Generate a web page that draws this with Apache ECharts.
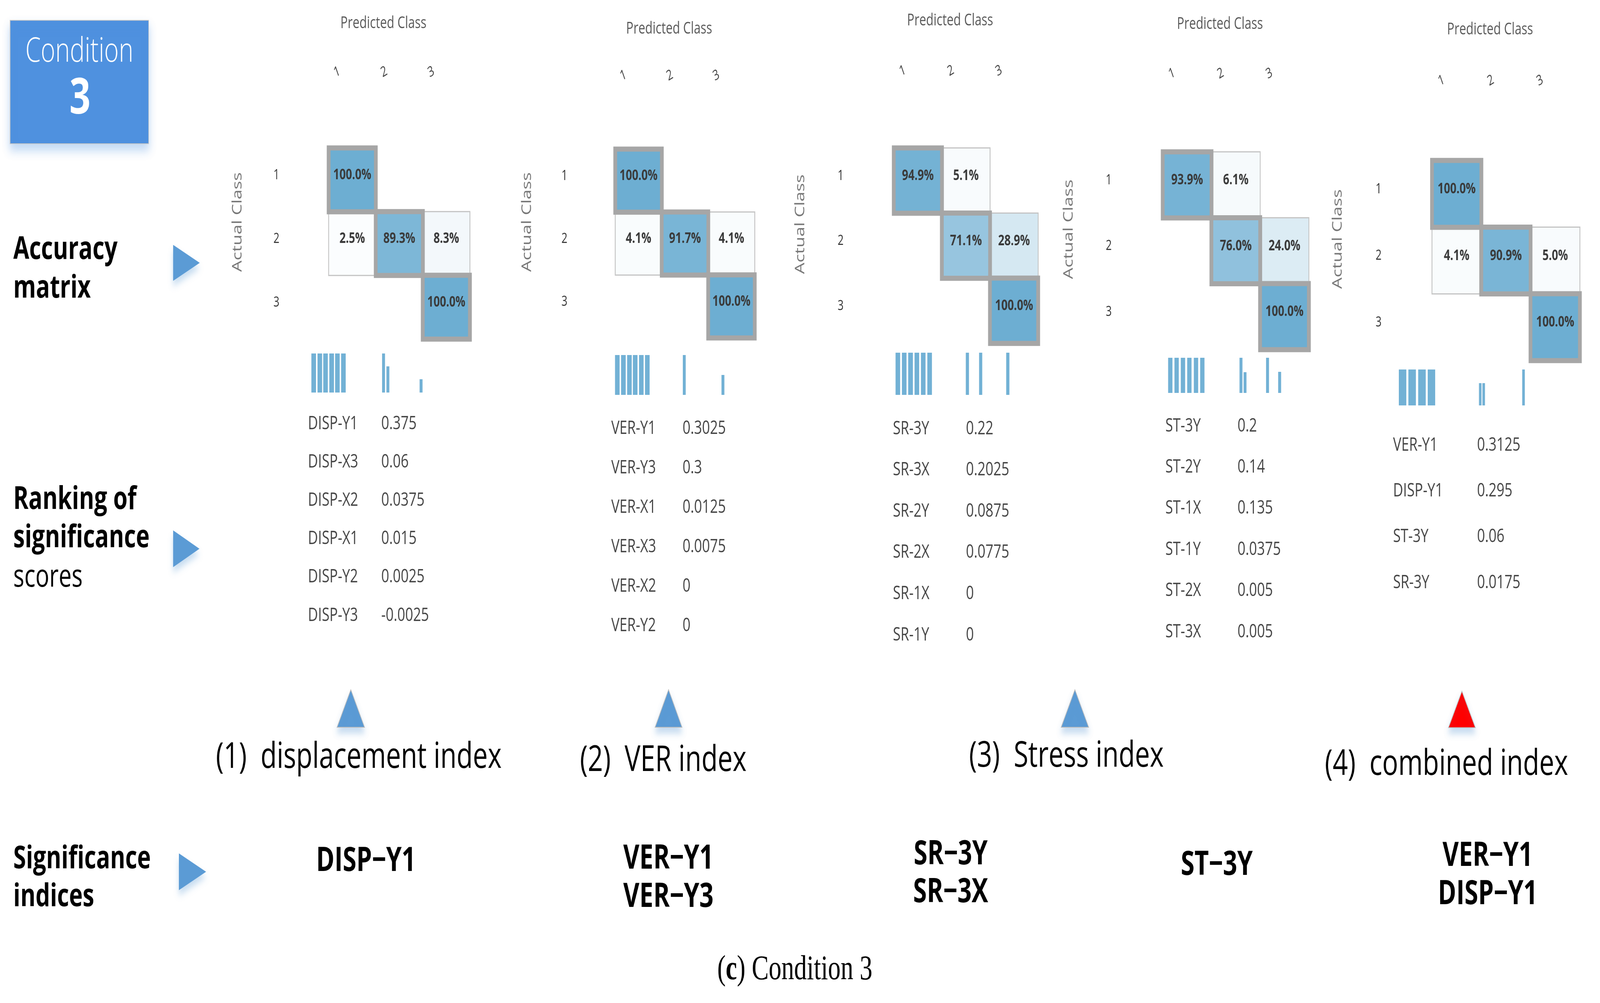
<!DOCTYPE html>
<html><head><meta charset="utf-8">
<script src="https://cdn.jsdelivr.net/npm/echarts@6/dist/echarts.min.js"></script>
<style>html,body{margin:0;padding:0;background:#fff;overflow:hidden}
#wrap{position:fixed;left:0;top:0;width:100vw;height:100vh;overflow:hidden;background:#fff}
#c{width:5544px;height:2568px;transform-origin:0 0}</style>
</head><body><div id="wrap"><div id="c"></div></div>
<script>
// ---------------- DATA ----------------
const classLabels = ['1', '2', '3'];

// accuracy matrices (rows = actual class, cols = predicted class, %)
const matDisp   = [[100, 0, 0], [2.5, 89.3, 8.3], [0, 0, 100]];
const matVer    = [[100, 0, 0], [4.1, 91.7, 4.1], [0, 0, 100]];
const matSR     = [[94.9, 5.1, 0], [0, 71.1, 28.9], [0, 0, 100]];
const matST     = [[93.9, 6.1, 0], [0, 76.0, 24.0], [0, 0, 100]];
const matComb   = [[100, 0, 0], [4.1, 90.9, 5.0], [0, 0, 100]];

// ranking of significance scores
const rankNamesDisp  = ['DISP-Y1', 'DISP-X3', 'DISP-X2', 'DISP-X1', 'DISP-Y2', 'DISP-Y3'];
const rankScoresDisp = ['0.375', '0.06', '0.0375', '0.015', '0.0025', '-0.0025'];
const rankNamesVer   = ['VER-Y1', 'VER-Y3', 'VER-X1', 'VER-X3', 'VER-X2', 'VER-Y2'];
const rankScoresVer  = ['0.3025', '0.3', '0.0125', '0.0075', '0', '0'];
const rankNamesSR    = ['SR-3Y', 'SR-3X', 'SR-2Y', 'SR-2X', 'SR-1X', 'SR-1Y'];
const rankScoresSR   = ['0.22', '0.2025', '0.0875', '0.0775', '0', '0'];
const rankNamesST    = ['ST-3Y', 'ST-2Y', 'ST-1X', 'ST-1Y', 'ST-2X', 'ST-3X'];
const rankScoresST   = ['0.2', '0.14', '0.135', '0.0375', '0.005', '0.005'];
const rankNamesComb  = ['VER-Y1', 'DISP-Y1', 'ST-3Y', 'SR-3Y'];
const rankScoresComb = ['0.3125', '0.295', '0.06', '0.0175'];

// mini bar strips (position along strip, relative height)
const blockXDisp = [1.7, 3.8, 5.8, 7.9, 9.9, 12.0];  const blockHDisp = [1, 1, 1, 1, 1, 1];
const spikeXDisp = [25.9, 27.4, 38.9];                const spikeHDisp = [1, 0.67, 0.34];
const blockXVer  = [1.9, 4.0, 6.1, 8.1, 10.2, 12.3];  const blockHVer  = [1, 1, 1, 1, 1, 1];
const spikeXVer  = [25.1, 38.5];                      const spikeHVer  = [1, 0.5];
const blockXSR   = [1.6, 3.8, 6.0, 8.2, 10.4, 12.6];  const blockHSR   = [1, 1, 1, 1, 1, 1];
const spikeXSR   = [25.7, 30.3, 39.7];                const spikeHSR   = [1, 1, 1];
const blockXST   = [1.5, 3.7, 5.9, 8.1, 10.4, 12.6];  const blockHST   = [1, 1, 1, 1, 1, 1];
const spikeXST   = [26.0, 27.4, 35.2, 39.4];          const spikeHST   = [1, 0.59, 1, 0.6];
const blockXComb = [2.0, 5.3, 8.7, 12.0];             const blockHComb = [1, 1, 1, 1];
const spikeXComb = [28.9, 30.1, 43.9];                const spikeHComb = [0.62, 0.62, 1];

const panelTitles = ['(1)  displacement index', '(2)  VER index', '(3)  Stress index', '(4)  combined index'];
const sigDisp = ['DISP\u2212Y1'];
const sigVer  = ['VER\u2212Y1', 'VER\u2212Y3'];
const sigSR   = ['SR\u22123Y', 'SR\u22123X'];
const sigST   = ['ST\u22123Y'];
const sigComb = ['VER\u2212Y1', 'DISP\u2212Y1'];

// ---------------- LAYOUT / STYLE ----------------
const FONT = '"Open Sans", "Noto Sans", sans-serif';
const panels = [
  {mat: matDisp, names: rankNamesDisp, scores: rankScoresDisp, bX: blockXDisp, bH: blockHDisp, sX: spikeXDisp, sH: spikeHDisp, sig: sigDisp},
  {mat: matVer,  names: rankNamesVer,  scores: rankScoresVer,  bX: blockXVer,  bH: blockHVer,  sX: spikeXVer,  sH: spikeHVer,  sig: sigVer},
  {mat: matSR,   names: rankNamesSR,   scores: rankScoresSR,   bX: blockXSR,   bH: blockHSR,   sX: spikeXSR,   sH: spikeHSR,   sig: sigSR},
  {mat: matST,   names: rankNamesST,   scores: rankScoresST,   bX: blockXST,   bH: blockHST,   sX: spikeXST,   sH: spikeHST,   sig: sigST},
  {mat: matComb, names: rankNamesComb, scores: rankScoresComb, bX: blockXComb, bH: blockHComb, sX: spikeXComb, sH: spikeHComb, sig: sigComb}
];
const layout = [
  {grid: [1139, 379, 489], pcGap: 298, colY: 182, rowM: 171, acGap: 292, bars: [1070, 905, 42, 100], bw: [16, 10], rank: [1067, 1321, 1085, 98.2], sig: [1268, 2205, 97]},
  {grid: [2132, 382, 483], pcGap: 287, colY: 191, rowM: 166, acGap: 282, bars: [2120, 909, 42, 102], bw: [16, 10], rank: [2118, 2365, 1097, 101], sig: [2316, 2199, 98]},
  {grid: [3097, 379, 500], pcGap: 305, colY: 179, rowM: 174, acGap: 300, bars: [3095, 903, 42, 108], bw: [16, 11], rank: [3094, 3347, 1098, 105.6], sig: [3294, 2188, 97]},
  {grid: [4029, 389, 506], pcGap: 306, colY: 186, rowM: 177, acGap: 302, bars: [4040, 916, 42, 90], bw: [15, 10], rank: [4038, 4288, 1091, 105.4], sig: [4216, 2215, 97]},
  {grid: [4962, 411, 512], pcGap: 314, colY: 204, rowM: 175, acGap: 303, bars: [4840, 946, 46, 92], bw: [26, 9], rank: [4827, 5118, 1140, 117.3], sig: [5155, 2192, 98]}
];
const titleLayout = [[1243, 1940], [2298, 1948], [3695, 1937], [5012, 1958]];
const upTri = [[1168, 1263, 1766, 1862, '#5B9BD5'], [2270, 2363, 1766, 1862, '#5B9BD5'], [3677, 3772, 1766, 1862, '#5B9BD5'], [5019, 5112, 1770, 1863, '#FF0000']];

const grids = [], xAxes = [], yAxes = [], series = [], graphics = [];
const heatIdx = [];
const BAR_COLOR = '#72B1D5';

panels.forEach((p, i) => {
  const L = layout[i];
  const g = grids.length;
  grids.push({left: L.grid[0], top: L.grid[1], width: L.grid[2], height: L.grid[2]});
  const xi = xAxes.length, yi = yAxes.length;
  xAxes.push({gridIndex: g, type: 'category', data: classLabels, position: 'top',
    axisLine: {show: false}, axisTick: {show: false}, splitLine: {show: false},
    axisLabel: {margin: L.grid[1] - L.colY + 22, rotate: -25, align: 'right', verticalAlign: 'middle', fontSize: 36, color: '#444', fontFamily: FONT, padding: [0, 48, 0, 0]},
    name: 'Predicted Class', nameLocation: 'middle', nameGap: L.pcGap,
    nameTextStyle: {fontSize: 42, color: '#595959', fontFamily: FONT, padding: [0, 110, 0, 0]}});
  yAxes.push({gridIndex: g, type: 'category', data: classLabels, inverse: true,
    axisLine: {show: false}, axisTick: {show: false}, splitLine: {show: false},
    axisLabel: {margin: L.rowM, fontSize: 36, color: '#333', fontFamily: FONT, verticalAlign: 'bottom', lineHeight: 24},
    name: 'Actual Class', nameLocation: 'middle', nameRotate: 90, nameGap: L.acGap,
    nameTextStyle: {fontSize: 46, color: '#777', fontFamily: FONT, padding: [0, 0, 0, 110]}});
  const off = [], diag = [];
  p.mat.forEach((row, r) => row.forEach((v, c) => { if (v > 0) (r === c ? diag : off).push([c, r, v]); }));
  const lab = {show: true, formatter: d => d.value[2].toFixed(1) + '%', fontSize: 38, fontWeight: 'bold', color: '#3a3a3a', fontFamily: FONT, offset: [0, -12]};
  heatIdx.push(series.length);
  series.push({type: 'heatmap', xAxisIndex: xi, yAxisIndex: yi, data: off, z: 2, label: lab,
    itemStyle: {borderColor: '#C4C4C4', borderWidth: 3}, emphasis: {disabled: true}});
  heatIdx.push(series.length);
  series.push({type: 'heatmap', xAxisIndex: xi, yAxisIndex: yi, data: diag, z: 3, label: lab,
    itemStyle: {borderColor: '#A6A6A6', borderWidth: 13}, emphasis: {disabled: true}});

  const gb = grids.length;
  grids.push({left: L.bars[0], top: L.bars[1], width: L.bars[2] * 10, height: L.bars[3]});
  const bx0 = xAxes.length;
  for (let k = 0; k < 2; k++) {
    xAxes.push({gridIndex: gb, type: 'value', min: 0, max: L.bars[2], show: false});
    yAxes.push({gridIndex: gb, type: 'value', min: 0, max: 1, show: false});
  }
  series.push({type: 'bar', xAxisIndex: bx0, yAxisIndex: bx0, barWidth: L.bw[0], silent: true,
    itemStyle: {color: BAR_COLOR}, data: p.bX.map((x, k) => [x, p.bH[k]])});
  series.push({type: 'bar', xAxisIndex: bx0 + 1, yAxisIndex: bx0 + 1, barWidth: L.bw[1], silent: true,
    itemStyle: {color: BAR_COLOR}, data: p.sX.map((x, k) => [x, p.sH[k]])});

  p.names.forEach((n, k) => {
    const y = L.rank[2] + k * L.rank[3];
    graphics.push({type: 'text', x: L.rank[0], y: y, style: {text: n, fill: '#454545', fontSize: 48, fontFamily: FONT, textAlign: 'left', textVerticalAlign: 'middle'}});
    graphics.push({type: 'text', x: L.rank[1], y: y, style: {text: p.scores[k], fill: '#454545', fontSize: 48, fontFamily: FONT, textAlign: 'left', textVerticalAlign: 'middle'}});
  });
  p.sig.forEach((s, k) => {
    graphics.push({type: 'text', x: L.sig[0], y: L.sig[1] + k * L.sig[2], style: {text: s, fill: '#000', fontSize: 86, fontWeight: 'bold', fontFamily: FONT, textAlign: 'center', textVerticalAlign: 'middle'}});
  });
});

panelTitles.forEach((t, i) => {
  graphics.push({type: 'text', x: titleLayout[i][0], y: titleLayout[i][1], style: {text: t, fill: '#000', fontSize: 92, fontFamily: FONT, textAlign: 'center', textVerticalAlign: 'middle'}});
  const u = upTri[i];
  graphics.push({type: 'polygon', shape: {points: [[u[0], u[3]], [(u[0] + u[1]) / 2, u[2]], [u[1], u[3]]]},
    style: {fill: u[4], stroke: '#BBBBBB', lineWidth: 2, shadowBlur: 18, shadowOffsetY: 14, shadowColor: 'rgba(91,155,213,0.35)'}});
});

graphics.push({type: 'rect', shape: {x: 35, y: 52, width: 480, height: 316},
  style: {fill: '#4F91DF', stroke: '#C8C8C8', lineWidth: 2, shadowBlur: 24, shadowOffsetY: 16, shadowColor: 'rgba(79,145,223,0.35)'}});
graphics.push({type: 'text', x: 275, y: 133, style: {text: 'Condition', fill: '#fff', fontSize: 86, fontWeight: 300, fontFamily: FONT, textAlign: 'center', textVerticalAlign: 'middle'}});
graphics.push({type: 'text', x: 277, y: 255, style: {text: '3', fill: '#fff', fontSize: 128, fontWeight: 'bold', fontFamily: FONT, textAlign: 'center', textVerticalAlign: 'middle'}});

const leftLabels = [['Accuracy', 640, 'bold'], ['matrix', 739, 'bold'], ['Ranking of', 1280, 'bold'], ['significance', 1378, 'bold'], ['scores', 1479, 'normal'], ['Significance', 2200, 'bold'], ['indices', 2297, 'bold']];
leftLabels.forEach(l => graphics.push({type: 'text', x: 46, y: l[1], style: {text: l[0], fill: '#000', fontSize: 80, fontWeight: l[2], fontFamily: FONT, textAlign: 'left', textVerticalAlign: 'middle'}}));
const rightTri = [[600, 692, 627, 719], [600, 691, 1358, 1452], [620, 714, 2185, 2279]];
rightTri.forEach(t => graphics.push({type: 'polygon', shape: {points: [[t[0], t[2]], [t[1], (t[2] + t[3]) / 2], [t[0], t[3]]]},
  style: {fill: '#5B9BD5', shadowBlur: 18, shadowOffsetY: 14, shadowColor: 'rgba(91,155,213,0.35)'}}));

graphics.push({type: 'text', x: 2754, y: 2484, style: {text: '({b|c}) Condition 3', fill: '#000', fontSize: 88, fontFamily: '"Liberation Serif", "Times New Roman", serif', textAlign: 'center', textVerticalAlign: 'middle',
  rich: {b: {fontSize: 88, fontWeight: 'bold', fontFamily: '"Liberation Serif", serif', fill: '#000'}}}});

// the design is 5544 x 2568; stretch it to fill whatever viewport the page gets
const sx = (window.innerWidth || 5544) / 5544, sy = (window.innerHeight || 2568) / 2568;
document.getElementById('c').style.transform = 'scale(' + sx + ',' + sy + ')';

const chart = echarts.init(document.getElementById('c'), null, {renderer: 'canvas', width: 5544, height: 2568});
chart.setOption({
  backgroundColor: '#ffffff',
  animation: false,
  grid: grids, xAxis: xAxes, yAxis: yAxes, series: series,
  visualMap: {type: 'continuous', min: 0, max: 100, show: false, seriesIndex: heatIdx, inRange: {color: ['#FFFFFF', '#6DAED2']}},
  graphic: {elements: graphics}
});
</script></body></html>
